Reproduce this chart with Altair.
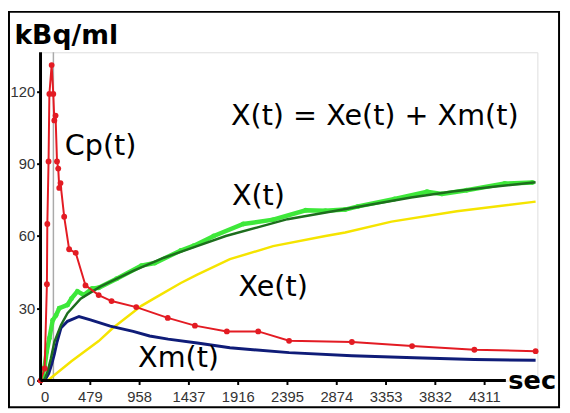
import altair as alt
import pandas as pd

# ---- data ----
cp_t = [0, 40, 62, 66, 78, 86, 108, 124, 134, 146, 160, 172, 182, 194, 230, 278, 342, 437, 565, 690, 930, 1236, 1500, 1810, 2115, 2415, 3025, 3610, 4215, 4810]
cp_v = [0, 5, 40, 65, 91, 119, 131, 119, 108, 110, 91, 88, 80, 82, 68, 54.5, 53, 39.5, 35.5, 33, 30.5, 26, 22.8, 20.4, 20.4, 16.5, 16, 14.3, 12.8, 12.2]

xobs_t = [0, 20, 38, 60, 86, 118, 150, 182, 262, 300, 358, 421, 501, 565, 740, 980, 1110, 1363, 1490, 1683, 1970, 2260, 2577, 2768, 2960, 3085, 3440, 3755, 3900, 4140, 4510, 4780]
xobs_v = [0, 2, 5.3, 12, 17.6, 25, 27, 30, 31.4, 34, 37, 35.5, 38.2, 38.5, 42.3, 47.7, 48.8, 54, 56, 60, 65, 66.8, 70.7, 70.5, 71, 72.3, 75.4, 78.4, 77.5, 79, 81.8, 82.2]

xfit_t = [0, 40, 70, 100, 134, 198, 262, 390, 580, 900, 1200, 1500, 1800, 2100, 2400, 2800, 3200, 3600, 4000, 4400, 4810]
xfit_v = [0, 0.5, 4, 9, 16, 23, 28, 34, 39, 45.5, 51, 55.5, 60, 63.5, 67, 70, 73, 76, 78.5, 80.5, 82.3]

xe_t = [0, 70, 300, 565, 700, 980, 1100, 1363, 1523, 1840, 2260, 2768, 2960, 3410, 4045, 4810]
xe_v = [0, 0, 8, 16.4, 21.7, 31, 34, 40.5, 44, 50.4, 55.8, 60, 61.5, 66, 70.3, 74.3]

xm_t = [0, 40, 80, 110, 134, 160, 198, 262, 374, 485, 677, 900, 1060, 1240, 1523, 1840, 2415, 3025, 3630, 4215, 4810]
xm_v = [0, 0, 3, 7, 11, 16, 21.8, 24.6, 26.6, 25.2, 22.6, 20.4, 18.5, 17.2, 15.6, 13.6, 11.6, 10.3, 9.5, 8.7, 8.4]

x_ticks = [0, 479, 958, 1437, 1916, 2395, 2874, 3353, 3832, 4311]
y_ticks = [0, 30, 60, 90, 120]

label_text = ["Cp(t)", "X(t) = Xe(t) + Xm(t)", "X(t)", "Xe(t)", "Xm(t)"]
label_t = [584, 3247, 2117, 2260, 1341]
label_v = [97.4, 109.7, 76.5, 38.9, 9.4]

bolus_t = [125]

X_MAX = 4827
Y_MAX = 136.3
X_AXIS_END = 4521

# ---- tables ----
def df(t, v):
    return pd.DataFrame({"t": t, "v": v})

cp = df(cp_t, cp_v)
xobs = df(xobs_t, xobs_v)
xfit = df(xfit_t, xfit_v)
xe = df(xe_t, xe_v)
xm = df(xm_t, xm_v)
labels = pd.DataFrame({"text": label_text, "t": label_t, "v": label_v})

LABEL_FONT = "DejaVu Sans, sans-serif"

x_enc = alt.X(
    "t:Q",
    scale=alt.Scale(domain=[0, X_MAX], nice=False, zero=False),
    axis=alt.Axis(
        values=x_ticks, format="d", domain=False, grid=False, ticks=True, tickColor="black",
        tickWidth=2, tickSize=4, labelFontSize=15, labelColor="#333",
        labelFont="Liberation Sans, Arial, sans-serif", labelPadding=5,
        title="sec", titleFont=LABEL_FONT, titleFontSize=26, titleFontWeight="bold",
        titleColor="black", titleAlign="left", titleBaseline="alphabetic",
        titleX=474, titleY=8, titleAnchor="start",
    ),
)
y_enc = alt.Y(
    "v:Q",
    scale=alt.Scale(domain=[0, Y_MAX], nice=False, zero=False),
    axis=alt.Axis(
        values=y_ticks, format="d", domain=False, grid=False, ticks=True, tickColor="black",
        tickWidth=2, tickSize=4, labelFontSize=15, labelColor="#333",
        labelFont="Liberation Sans, Arial, sans-serif", labelPadding=2,
        title="kBq/ml", titleFont=LABEL_FONT, titleFontSize=27, titleFontWeight="bold",
        titleColor="black", titleAngle=0, titleAlign="left", titleBaseline="alphabetic",
        titleX=-27, titleY=-9,
    ),
)

axis_x_df = pd.DataFrame({"t": [0], "t2": [X_AXIS_END], "v": [0]})
axis_y_df = pd.DataFrame({"t": [0], "v": [0], "v2": [Y_MAX]})
bolus_df = pd.DataFrame({"t": bolus_t, "v": [0], "v2": [Y_MAX]})

bolus = alt.Chart(bolus_df).mark_rule(color="#aaaaaa", strokeWidth=1.5).encode(
    x=x_enc, y=y_enc, y2="v2:Q")

xe_line = alt.Chart(xe).mark_line(color="#f5e400", strokeWidth=2.5).encode(x=x_enc, y=y_enc)
xm_line = alt.Chart(xm).mark_line(color="#0f1c78", strokeWidth=3).encode(x=x_enc, y=y_enc)
xobs_line = alt.Chart(xobs).mark_line(
    color="#3ee83a", strokeWidth=4.5,
    point=alt.OverlayMarkDef(filled=True, size=25, color="#3ee83a"),
).encode(x=x_enc, y=y_enc)
xfit_line = alt.Chart(xfit).mark_line(color="#1d6e1d", strokeWidth=2.5).encode(x=x_enc, y=y_enc)
cp_line = alt.Chart(cp).mark_line(
    color="#e31b23", strokeWidth=2,
    point=alt.OverlayMarkDef(filled=True, size=35, color="#e31b23"),
).encode(x=x_enc, y=y_enc)

x_axis_line = alt.Chart(axis_x_df).mark_rule(color="black", strokeWidth=3).encode(
    x=x_enc, x2="t2:Q", y=y_enc)
y_axis_line = alt.Chart(axis_y_df).mark_rule(color="black", strokeWidth=3).encode(
    x=x_enc, y=y_enc, y2="v2:Q")

text = alt.Chart(labels).mark_text(
    font=LABEL_FONT, fontSize=29, color="black", align="center", baseline="middle"
).encode(x=x_enc, y=y_enc, text="text:N")

frame = alt.Chart(axis_x_df).mark_rect(
    filled=False, stroke="black", strokeWidth=2
).encode(x=alt.value(-32), x2=alt.value(526), y=alt.value(-41), y2=alt.value(360))

chart = alt.layer(
    frame, bolus, xe_line, xm_line, xobs_line, xfit_line, cp_line,
    x_axis_line, y_axis_line, text,
).properties(
    width=504, height=333,
    autosize=alt.AutoSizeParams(type="none"),
    padding={"left": 33, "top": 42, "right": 25, "bottom": 30},
).configure_view(stroke=None).configure(background="white")

chart.save("out.html", embed_options={"renderer": "svg", "actions": False})
